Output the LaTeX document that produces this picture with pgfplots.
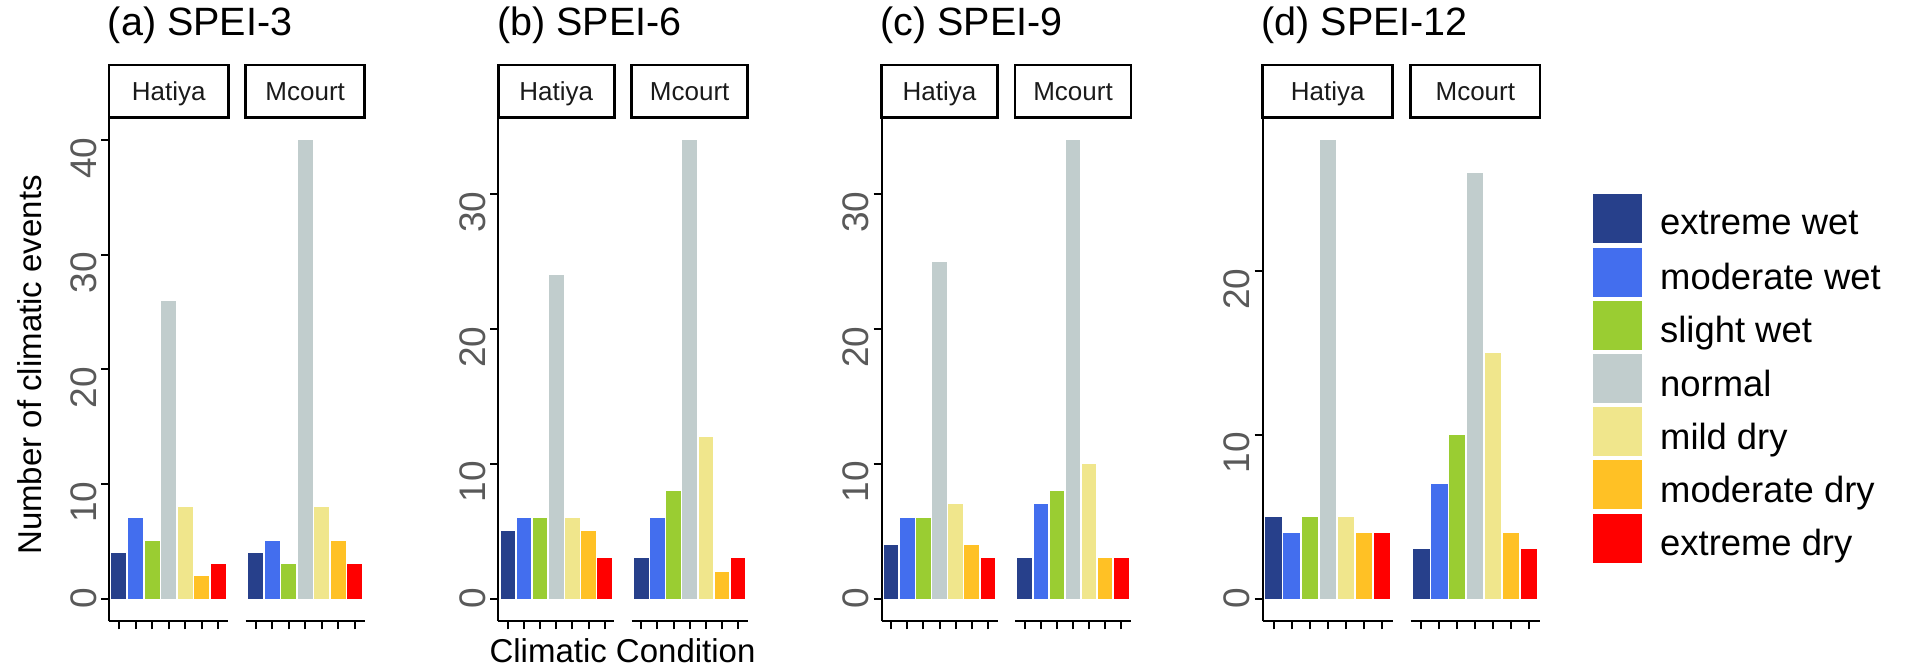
\documentclass[border=0pt]{standalone}
\usepackage{fontspec}
\setmainfont{Liberation Sans}
\usepackage{pgfplots}
\pgfplotsset{compat=1.18}

\definecolor{cEW}{HTML}{27408B}
\definecolor{cMW}{HTML}{436EEE}
\definecolor{cSW}{HTML}{9ACD32}
\definecolor{cNO}{HTML}{C1CDCD}
\definecolor{cMI}{HTML}{F0E68C}
\definecolor{cMD}{HTML}{FFC125}
\definecolor{cED}{HTML}{FF0000}
\definecolor{tickgray}{HTML}{595959}
\definecolor{stripgray}{HTML}{1A1A1A}

\newcommand\titlefont{\fontsize{19.75pt}{22pt}\selectfont}
\newcommand\stripfont{\fontsize{13pt}{15pt}\selectfont}
\newcommand\tickfont{\fontsize{18.5pt}{20pt}\selectfont}
\newcommand\labfont{\fontsize{16.5pt}{18pt}\selectfont}
\newcommand\legfont{\fontsize{18.2pt}{20pt}\selectfont}
\newcommand\tw[1]{#1\hspace*{18pt}}

% seven bars of one facet, in the order of the legend
\newcommand\sevenbars[7]{%
  \addplot[ybar, bar width=0.9, bar shift=0pt, fill=cEW, draw=none] coordinates {(1,#1)};
  \addplot[ybar, bar width=0.9, bar shift=0pt, fill=cMW, draw=none] coordinates {(2,#2)};
  \addplot[ybar, bar width=0.9, bar shift=0pt, fill=cSW, draw=none] coordinates {(3,#3)};
  \addplot[ybar, bar width=0.9, bar shift=0pt, fill=cNO, draw=none] coordinates {(4,#4)};
  \addplot[ybar, bar width=0.9, bar shift=0pt, fill=cMI, draw=none] coordinates {(5,#5)};
  \addplot[ybar, bar width=0.9, bar shift=0pt, fill=cMD, draw=none] coordinates {(6,#6)};
  \addplot[ybar, bar width=0.9, bar shift=0pt, fill=cED, draw=none] coordinates {(7,#7)};
}
\newcommand\strip[1]{%
  \draw[line width=1.3pt, black] (rel axis cs:0,1) rectangle ([yshift=26.25pt]rel axis cs:1,1);
  \node[anchor=base, inner sep=0pt, font=\stripfont, text=stripgray] at ([yshift=8.25pt]rel axis cs:0.5,1) {#1};
}
\newcommand\paneltitle[1]{%
  \node[anchor=base west, inner sep=0pt, font=\titlefont] at ([xshift=-0.75pt,yshift=40.75pt]rel axis cs:0,1) {#1};
}

\pgfplotsset{
  facet/.style={scale only axis, height=252pt, anchor=south west,
    xmin=0.4, xmax=7.6, xtick={1,2,3,4,5,6,7}, xticklabels={},
    axis x line*=bottom,
    axis line style={-, line width=1pt, black},
    x axis line style={-}, y axis line style={-},
    every tick/.style={line width=1pt, black},
    major tick length=4pt, tick align=outside, clip=false,
    /pgf/number format/assume math mode=true},
  firstfacet/.style={facet, axis y line*=left, yticklabel shift=2.5pt,
    yticklabel style={font=\tickfont, text=tickgray, rotate=90, anchor=base, inner sep=0pt}},
  secondfacet/.style={facet, axis y line=none, ytick=\empty, ymajorticks=false},
}

\begin{document}
\begin{tikzpicture}
\useasboundingbox (0,0) rectangle (956.5pt,-333.5pt);

% ---------- (a) SPEI-3 ----------
\begin{axis}[firstfacet, at={(54.5pt,-310.75pt)}, width=59.65pt, ymin=-2, ymax=42,
  ytick={0,10,20,30,40}, yticklabels={0,\tw{10},\tw{20},\tw{30},\tw{40}}]
  \sevenbars{4}{7}{5}{26}{8}{2}{3}
  \strip{Hatiya}
  \paneltitle{(a) SPEI-3}
\end{axis}
\begin{axis}[secondfacet, at={(122.85pt,-310.75pt)}, width=59.5pt, ymin=-2, ymax=42]
  \sevenbars{4}{5}{3}{40}{8}{5}{3}
  \strip{Mcourt}
\end{axis}

% ---------- (b) SPEI-6 ----------
\begin{axis}[firstfacet, at={(249.15pt,-310.75pt)}, width=58pt, ymin=-1.7, ymax=35.7,
  ytick={0,10,20,30}, yticklabels={0,\tw{10},\tw{20},\tw{30}}]
  \sevenbars{5}{6}{6}{24}{6}{5}{3}
  \strip{Hatiya}
  \paneltitle{(b) SPEI-6}
\end{axis}
\begin{axis}[secondfacet, at={(315.85pt,-310.75pt)}, width=58pt, ymin=-1.7, ymax=35.7]
  \sevenbars{3}{6}{8}{34}{12}{2}{3}
  \strip{Mcourt}
\end{axis}

% ---------- (c) SPEI-9 ----------
\begin{axis}[firstfacet, at={(440.75pt,-310.75pt)}, width=58pt, ymin=-1.7, ymax=35.7,
  ytick={0,10,20,30}, yticklabels={0,\tw{10},\tw{20},\tw{30}}]
  \sevenbars{4}{6}{6}{25}{7}{4}{3}
  \strip{Hatiya}
  \paneltitle{(c) SPEI-9}
\end{axis}
\begin{axis}[secondfacet, at={(507.5pt,-310.75pt)}, width=58pt, ymin=-1.7, ymax=35.7]
  \sevenbars{3}{7}{8}{34}{10}{3}{3}
  \strip{Mcourt}
\end{axis}

% ---------- (d) SPEI-12 ----------
\begin{axis}[firstfacet, at={(631.35pt,-310.75pt)}, width=65pt, ymin=-1.4, ymax=29.4,
  ytick={0,10,20}, yticklabels={0,\tw{10},\tw{20}}]
  \sevenbars{5}{4}{5}{28}{5}{4}{4}
  \strip{Hatiya}
  \paneltitle{(d) SPEI-12}
\end{axis}
\begin{axis}[secondfacet, at={(705.35pt,-310.75pt)}, width=64.65pt, ymin=-1.4, ymax=29.4,
  legend image code/.code={\fill[#1] (0pt,-9.3pt) rectangle (24.15pt,15.2pt);},
  legend cell align=left,
  legend style={at={(axis description cs:1.4122,0.8476)}, anchor=north west,
    draw=none, fill=none, inner sep=0pt, outer sep=0pt, font=\legfont,
    row sep=2.1pt, nodes={inner sep=0pt},
    /tikz/every odd column/.append style={column sep=9.3pt}}]
  \addlegendimage{fill=cEW, draw=none}\addlegendentry{extreme wet}
  \addlegendimage{fill=cMW, draw=none}\addlegendentry{moderate wet}
  \addlegendimage{fill=cSW, draw=none}\addlegendentry{slight wet}
  \addlegendimage{fill=cNO, draw=none}\addlegendentry{normal}
  \addlegendimage{fill=cMI, draw=none}\addlegendentry{mild dry}
  \addlegendimage{fill=cMD, draw=none}\addlegendentry{moderate dry}
  \addlegendimage{fill=cED, draw=none}\addlegendentry{extreme dry}
  \sevenbars{3}{7}{10}{26}{15}{4}{3}
  \strip{Mcourt}
\end{axis}

% axis titles
\node[rotate=90, anchor=center, inner sep=0pt, font=\labfont] at (15pt,-182.5pt) {Number of climatic events};
\node[anchor=base, inner sep=0pt, font=\labfont] at (311.25pt,-331.35pt) {Climatic Condition};
\end{tikzpicture}
\end{document}
